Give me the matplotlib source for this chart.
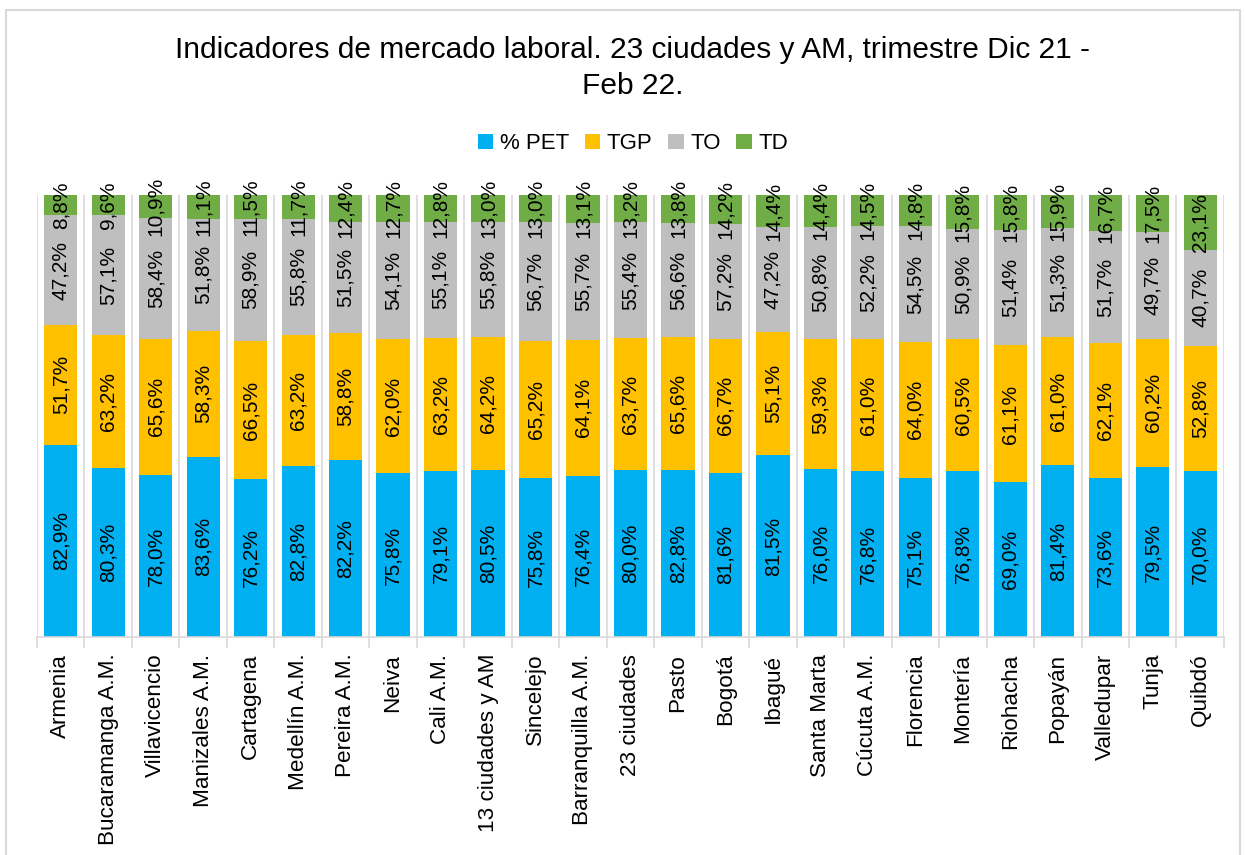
import numpy as np
import matplotlib
matplotlib.use("Agg")
import matplotlib.pyplot as plt
from matplotlib.patches import Rectangle

plt.rcParams['font.family'] = ['Liberation Sans', 'DejaVu Sans']

# -------------------------------
# Data
# -------------------------------
ciudades = ["Armenia", "Bucaramanga A.M.", "Villavicencio", "Manizales A.M.",
            "Cartagena", "Medellín A.M.", "Pereira A.M.", "Neiva", "Cali A.M.",
            "13 ciudades y AM", "Sincelejo", "Barranquilla A.M.", "23 ciudades",
            "Pasto", "Bogotá", "Ibagué", "Santa Marta", "Cúcuta A.M.",
            "Florencia", "Montería", "Riohacha", "Popayán", "Valledupar",
            "Tunja", "Quibdó"]

pet = [82.9, 80.3, 78.0, 83.6, 76.2, 82.8, 82.2, 75.8, 79.1, 80.5, 75.8, 76.4,
       80.0, 82.8, 81.6, 81.5, 76.0, 76.8, 75.1, 76.8, 69.0, 81.4, 73.6, 79.5, 70.0]
tgp = [51.7, 63.2, 65.6, 58.3, 66.5, 63.2, 58.8, 62.0, 63.2, 64.2, 65.2, 64.1,
       63.7, 65.6, 66.7, 55.1, 59.3, 61.0, 64.0, 60.5, 61.1, 61.0, 62.1, 60.2, 52.8]
to = [47.2, 57.1, 58.4, 51.8, 58.9, 55.8, 51.5, 54.1, 55.1, 55.8, 56.7, 55.7,
      55.4, 56.6, 57.2, 47.2, 50.8, 52.2, 54.5, 50.9, 51.4, 51.3, 51.7, 49.7, 40.7]
td = [8.8, 9.6, 10.9, 11.1, 11.5, 11.7, 12.4, 12.7, 12.8, 13.0, 13.0, 13.1,
      13.2, 13.8, 14.2, 14.4, 14.4, 14.5, 14.8, 15.8, 15.8, 15.9, 16.7, 17.5, 23.1]

series = ["% PET", "TGP", "TO", "TD"]
colores = ["#00B0F0", "#FFC000", "#BFBFBF", "#70AD47"]

# -------------------------------
# 100% stacked shares
# -------------------------------
valores = np.array([pet, tgp, to, td])
totales = valores.sum(axis=0)
shares = valores / totales

x = np.arange(len(ciudades))

fig = plt.figure(figsize=(12.46, 8.55), dpi=100)
ax = fig.add_axes([0.0297, 0.255, 0.9526, 0.517])

bottom = np.zeros(len(ciudades))
for vals, sh, nombre, color in zip(valores, shares, series, colores):
    ax.bar(x, sh, width=0.7, bottom=bottom, color=color, label=nombre, zorder=2)
    for xi, b, h, v in zip(x, bottom, sh, vals):
        etiqueta = f"{v:.1f}%".replace(".", ",")
        ax.text(xi, b + h / 2, etiqueta, rotation=90, ha="center", va="center",
                fontsize=15, color="black", zorder=3)
    bottom += sh

ax.set_xlim(-0.5, len(ciudades) - 0.5)
ax.set_ylim(0, 1)

# ejes y grilla
ax.set_yticks([])
for s in ["top", "right", "left"]:
    ax.spines[s].set_visible(False)
ax.spines["bottom"].set_color("#D9D9D9")
ax.spines["bottom"].set_linewidth(1.2)

ax.set_xticks(x)
ax.set_xticklabels(ciudades, rotation=90, fontsize=16.2)
ax.tick_params(axis="x", which="major", length=0, pad=12)
ax.set_xticks(np.arange(-0.5, len(ciudades)), minor=True)
ax.tick_params(axis="x", which="minor", length=8, color="#D9D9D9", width=1.2)
ax.grid(axis="x", which="minor", color="#D9D9D9", linewidth=1.2, zorder=0)

# titulo y leyenda
fig.text(0.508, 0.958, "Indicadores de mercado laboral. 23 ciudades y AM, trimestre Dic 21 -\nFeb 22.",
         ha="center", va="top", fontsize=21.5, linespacing=1.38)
fig.legend(loc="center", bbox_to_anchor=(0.508, 0.832), ncol=4, frameon=False,
           fontsize=16, handlelength=0.7, handleheight=0.7, handletextpad=0.3,
           columnspacing=0.7)

# borde del grafico
fig.patches.append(Rectangle((6 / 1246, -0.01), 1234 / 1246, 1 - 10 / 855 + 0.01,
                             transform=fig.transFigure, fill=False,
                             edgecolor="#D9D9D9", linewidth=1.5))

fig.savefig("out.png", dpi=100)
